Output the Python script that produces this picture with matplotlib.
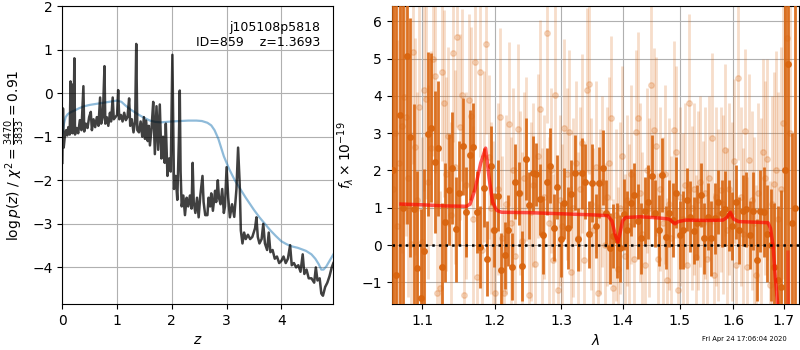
import matplotlib
matplotlib.use("Agg")
import matplotlib.pyplot as plt
import numpy as np
from matplotlib.ticker import FixedLocator, FixedFormatter, NullLocator

# ---- redshift probability: log p(z) ----
pz_z = [0.000, 0.012, 0.025, 0.045, 0.07, 0.09, 0.11, 0.135, 0.150, 0.162,
        0.175, 0.185, 0.205, 0.220, 0.232, 0.26, 0.29, 0.32, 0.35, 0.385,
        0.40, 0.43, 0.46, 0.49, 0.52, 0.54, 0.57, 0.60, 0.63, 0.66,
        0.69, 0.71, 0.74, 0.77, 0.785, 0.81, 0.84, 0.87, 0.89, 0.92,
        0.94, 0.97, 1.00, 1.02, 1.04, 1.07, 1.10, 1.13, 1.16, 1.19,
        1.22, 1.24, 1.27, 1.30, 1.33, 1.35, 1.37, 1.40, 1.43, 1.46,
        1.49, 1.51, 1.53, 1.56, 1.58, 1.60, 1.63, 1.66, 1.69, 1.72,
        1.75, 1.78, 1.81, 1.84, 1.87, 1.89, 1.92, 1.95, 1.98, 2.01,
        2.04, 2.07, 2.10, 2.13, 2.145, 2.16, 2.18, 2.21, 2.24, 2.27,
        2.30, 2.33, 2.36, 2.38, 2.40, 2.43, 2.46, 2.49, 2.52, 2.56,
        2.58, 2.61, 2.65, 2.67, 2.70, 2.72, 2.75, 2.79, 2.81, 2.84,
        2.86, 2.89, 2.92, 2.95, 2.97, 3.00, 3.03, 3.06, 3.10, 3.14,
        3.18, 3.21, 3.24, 3.26, 3.29, 3.32, 3.35, 3.39, 3.43, 3.47,
        3.52, 3.545, 3.57, 3.60, 3.64, 3.67, 3.70, 3.74, 3.77, 3.80,
        3.84, 3.88, 3.92, 3.96, 4.00, 4.04, 4.08, 4.12, 4.16, 4.19,
        4.23, 4.27, 4.31, 4.35, 4.39, 4.42, 4.46, 4.50, 4.55, 4.60,
        4.63, 4.66, 4.70, 4.73, 4.76, 4.80, 4.84, 4.88, 4.92, 4.95]
pz_logp = [-1.60, -0.35, -1.25, -1.00, -0.85, -0.97, -0.78, -0.95, 0.27, -0.90,
           0.20, -0.92, -0.75, 0.80, -0.95, -0.80, -0.92, -0.62, -0.85, 0.16,
           -0.88, -0.70, -0.80, -0.55, -0.43, -0.85, -0.60, -0.78, -0.55, -0.75,
           -0.10, -0.70, -0.55, 0.62, -0.70, -0.55, -0.75, -0.45, -0.65, -0.10,
           -0.60, -0.55, -0.50, 0.07, -0.60, -0.50, -0.65, -0.45, -0.62, -0.55,
           -0.12, -0.75, -0.60, -0.90, -0.65, 1.13, -0.85, -0.90, -0.65, -1.00,
           -0.55, -1.05, -0.63, -1.10, -0.75, -1.20, -0.80, -0.20, -1.40, -0.30,
           -1.30, -0.26, -1.50, -1.00, -1.60, -0.70, -1.90, -1.50, -1.80, 0.88,
           -2.20, -1.90, -2.45, -1.00, 0.06, -1.80, -2.60, -2.35, -2.80, -2.40,
           -2.60, -2.35, -2.65, -1.60, -2.50, -2.75, -2.40, -2.85, -2.35, -1.90,
           -2.50, -2.80, -2.80, -2.40, -2.60, -2.30, -2.70, -2.24, -2.50, -2.00,
           -2.40, -2.55, -2.20, -2.75, -2.60, -1.70, -2.40, -2.85, -2.55, -2.84,
           -2.20, -1.25, -2.10, -3.15, -3.45, -3.20, -3.35, -3.25, -3.35, -3.30,
           -3.10, -2.85, -3.30, -3.45, -3.35, -3.00, -3.45, -3.60, -3.20, -3.65,
           -3.60, -3.80, -3.75, -3.90, -3.85, -3.75, -3.90, -3.80, -3.49, -3.95,
           -3.90, -4.00, -3.95, -4.10, -3.70, -4.15, -4.05, -4.25, -4.25, -4.35,
           -4.00, -4.30, -4.25, -4.60, -4.65, -4.45, -4.35, -4.20, -4.00, -3.90]

# smooth (template-prior) curve
prior_z = [0.00, 0.03, 0.06, 0.10, 0.15, 0.22, 0.30, 0.40, 0.50, 0.60,
           0.70, 0.85, 1.00, 1.08, 1.15, 1.25, 1.40, 1.50, 1.60, 1.70,
           1.80, 1.90, 2.00, 2.15, 2.30, 2.45, 2.55, 2.65, 2.72, 2.78,
           2.85, 2.90, 2.95, 3.05, 3.15, 3.25, 3.35, 3.50, 3.60, 3.70,
           3.80, 3.90, 4.00, 4.10, 4.20, 4.30, 4.45, 4.55, 4.62, 4.68,
           4.73, 4.77, 4.82, 4.88, 4.95]
prior_logp = [-0.95, -0.70, -0.55, -0.48, -0.44, -0.40, -0.35, -0.30, -0.27, -0.25,
              -0.23, -0.20, -0.17, -0.20, -0.28, -0.38, -0.50, -0.57, -0.63, -0.66,
              -0.67, -0.66, -0.65, -0.64, -0.63, -0.63, -0.64, -0.68, -0.74, -0.85,
              -1.05, -1.25, -1.45, -1.75, -2.00, -2.20, -2.40, -2.68, -2.85, -3.00,
              -3.15, -3.28, -3.40, -3.47, -3.52, -3.55, -3.62, -3.70, -3.80, -3.92,
              -4.05, -4.05, -3.98, -3.85, -3.70]

# ---- 1D spectrum ----
dark_flux = [2.0, -0.8, 3.5, 1.0, 5.07,
             2.89, 0.98, -0.61, -1.43, -0.15, 2.97, 3.15, 2.22, 2.59, -0.58,
             0.61, 1.49, 2.06, 0.42, 1.40, 2.65, 0.89, 2.41, 2.62, 0.88,
             -0.05, 1.54, -0.36, 2.13, 0.40, 1.32, -0.67, -0.27, 0.40, -0.58,
             1.70, 1.39, -0.56, 2.30, 1.07, 1.92, 1.90, 1.23, 0.27, 1.70,
             2.13, 0.47, 1.56, 0.15, 1.12, 0.45, 1.37, 1.94, 0.15, 1.92,
             1.70, 0.29, 1.67, 0.51, 1.67, 2.08, 0.85, -0.09, 0.24, 0.13,
             -0.09, 0.83, 0.40, 1.14, 1.34, 0.64, 0.18, 0.92, 1.16, 1.86,
             0.85, 0.40, 1.88, 0.21, 0.85, 0.67, 1.40, 0.27, 0.40, 1.22,
             0.76, 0.38, 0.60, 1.34, 0.18, 0.76, 0.18, 0.72, 1.16, 0.85,
             0.98, 0.80, 0.51, 1.16, 0.40, 0.92, 0.96, 0.27, 0.92, -0.40,
             0.92, 0.89, 0.31, 0.00, -0.58, -0.94, -1.12, 2.0, 4.85, 0.6, 1.0]
dark_err = [9.0, 9.0, 9.0, 9.0, 4.5,
            3.2, 2.8, 2.6, 2.4, 2.2, 2.2, 2.0, 1.9, 1.8, 1.7,
            1.6, 1.5, 1.5, 1.4, 1.4, 1.3, 1.2, 1.2, 1.2, 1.1,
            1.1, 1.05, 1.0, 1.05, 1.0, 0.95, 1.0, 0.9, 0.95, 0.9,
            1.0, 0.85, 0.95, 1.1, 0.9, 1.0, 0.85, 0.95, 1.05, 0.9,
            1.0, 0.9, 0.85, 1.0, 0.95, 1.1, 0.9, 1.0, 0.85, 0.95,
            1.0, 0.9, 1.05, 0.85, 0.95, 1.0, 0.9, 0.95, 0.85, 1.0,
            0.9, 0.95, 1.05, 0.9, 0.85, 1.0, 0.95, 0.9, 1.0, 1.1,
            0.9, 0.95, 1.0, 0.85, 0.9, 1.0, 0.95, 0.9, 1.05, 0.85,
            0.95, 0.9, 1.0, 0.85, 0.95, 0.9, 1.0, 0.95, 0.85, 0.9,
            1.0, 0.95, 0.9, 1.0, 0.9, 0.95, 1.0, 0.9, 1.05, 1.1,
            1.1, 1.2, 1.3, 1.5, 1.7, 2.0, 2.6, 9.0, 9.0, 2.4, 9.0]

light_flux = [1.5, 3.0, 0.5, 2.2, 3.19, 3.96, 3.44, 1.8, 0.03, 5.17,
              2.64, 1.2, 3.71, 0.09, 4.16, 3.93, 1.70, 2.6, 4.98, 4.53,
              -1.28, -1.16, 4.65, 3.80, 1.9, 2.92, 0.8, 5.16, 2.1, 5.57,
              3.17, 4.02, -1.34, 1.6, 3.89, 3.46, 0.7, 4.92, -0.85, 4.65,
              -0.13, 2.37, 5.39, 2.35, 1.0, 0.4, -1.29, 1.5, 3.43, 0.2,
              -1.28, 1.1, 3.24, 0.6, 2.0, -0.3, 3.10, 1.4, 0.1, 1.8,
              2.30, -1.34, 0.9, 1.6, -0.5, 2.4, 3.64, 0.3, 1.3, 5.68,
              0.6, 2.0, -0.4, 4.02, -1.21, 1.2, 0.5, 3.13, 1.9, 3.04,
              -0.72, 1.0, 2.2, 0.2, 1.5, 2.73, -0.40, 4.17, 4.31, 1.1,
              0.4, 2.1, -1.29, 0.9, 1.7, 0.0, 1.3, 2.2, 3.40, -1.16,
              0.8, -0.65, 1.0, 2.4, -0.3, 1.2, 0.5, 1.9, -0.36, 3.04,
              3.42, 1.4, 0.3, -0.54, 2.0, 1.0, 4.29, 3.08, 2.65, -0.36,
              1.5, 0.6, 1.9, -0.94, 1.1, 0.2, 3.08, 2.50, -1.21, 1.3,
              0.7, 1.6, -0.54, 3.80, 1.0, 1.5, -0.31, 1.2, 1.7, 0.6,
              1.4, -0.38, 1.8, 2.86, -0.80, 1.3, 0.8, 1.49, 1.1, 2.55,
              0.4, 1.5, 0.9, 2.25, -0.54, 4.47, 1.3, 0.3, 3.06, -0.58,
              2.28, 1.2, 0.6, -0.80, 1.4, 0.9, 2.50, 1.8, 2.30, -1.07,
              1.1, 1.64, 2.0, 0.7, 1.5, 3.28, 2.0, 5.54, 3.0]
light_err = [6.0, 6.0, 5.0, 5.0, 3.4, 3.4, 3.2, 3.2, 3.0, 3.0,
             2.9, 2.9, 2.8, 2.8, 2.7, 2.7, 2.6, 2.6, 2.6, 2.6,
             2.5, 2.6, 2.4, 2.5, 2.6, 2.4, 2.5, 2.4, 2.6, 2.4,
             2.5, 2.3, 2.4, 2.5, 2.3, 2.4, 2.5, 2.3, 2.4, 2.3,
             2.4, 2.3, 2.4, 2.2, 2.3, 2.4, 2.2, 2.3, 2.4, 2.2,
             2.3, 2.4, 2.2, 2.3, 2.2, 2.4, 2.3, 2.2, 2.4, 2.3,
             2.2, 2.3, 2.4, 2.2, 2.3, 2.2, 2.4, 2.3, 2.2, 2.4,
             2.3, 2.2, 2.3, 2.4, 2.2, 2.3, 2.2, 2.4, 2.3, 2.2,
             2.3, 2.4, 2.2, 2.3, 2.2, 2.4, 2.3, 2.2, 2.4, 2.3,
             2.2, 2.3, 2.4, 2.2, 2.3, 2.2, 2.4, 2.3, 2.2, 2.4,
             2.3, 2.2, 2.3, 2.4, 2.2, 2.3, 2.2, 2.4, 2.3, 2.2,
             2.3, 2.4, 2.2, 2.3, 2.2, 2.4, 2.3, 2.2, 2.4, 2.3,
             2.2, 2.3, 2.4, 2.2, 2.3, 2.2, 2.4, 2.3, 2.2, 2.4,
             2.3, 2.2, 2.3, 2.4, 2.2, 2.3, 2.2, 2.4, 2.3, 2.2,
             2.3, 2.4, 2.2, 2.3, 2.2, 2.4, 2.3, 2.2, 2.4, 2.3,
             2.2, 2.3, 2.4, 2.2, 2.3, 2.2, 2.4, 2.3, 2.2, 2.4,
             2.3, 2.4, 2.3, 2.4, 2.4, 2.5, 2.5, 2.6, 2.7, 2.8,
             2.9, 3.0, 3.2, 3.4, 3.8, 4.2, 4.6, 5.0, 6.0]

# best-fit model
model_wave = [1.072, 1.100, 1.130, 1.160, 1.165, 1.172, 1.180, 1.187, 1.192, 1.197,
              1.203, 1.210, 1.250, 1.300, 1.350, 1.375, 1.382, 1.388, 1.392, 1.396,
              1.400, 1.405, 1.430, 1.460, 1.480, 1.487, 1.491, 1.497, 1.510, 1.550,
              1.580, 1.588, 1.594, 1.600, 1.610, 1.650, 1.668, 1.673, 1.678, 1.683,
              1.689]
model_flux = [1.10, 1.08, 1.05, 1.04, 1.10, 1.50, 2.20, 2.60, 1.80, 1.15,
              0.93, 0.88, 0.87, 0.84, 0.81, 0.79, 0.65, 0.25, 0.08, 0.35,
              0.65, 0.74, 0.76, 0.73, 0.70, 0.62, 0.57, 0.63, 0.67, 0.66,
              0.67, 0.75, 0.88, 0.70, 0.63, 0.61, 0.60, 0.45, 0.00, -0.90,
              -1.80]
model2_wave = [1.7085, 1.7090]
model2_flux = [-0.19, -2.0]

wave_lo, wave_hi = 1.0613, 1.7238
dark_wave = np.geomspace(wave_lo, wave_hi, len(dark_flux))
light_wave = np.geomspace(wave_lo, 1.712, len(light_flux))

obj_label = "j105108p5818\nID=859    z=1.3693"
chi2_label = r"$\log p(z)$" + " / " + r"$\chi^2=\frac{3470}{3833}=0.91$"
stamp = "Fri Apr 24 17:06:04 2020"

orange = "#d9650f"

fig = plt.figure(figsize=(8, 3.5), dpi=100)
ax1 = fig.add_axes([0.0779, 0.1314, 0.3388, 0.8514])
ax2 = fig.add_axes([0.4896, 0.1314, 0.5095, 0.8514])

# left: redshift PDF
ax1.plot(prior_z, prior_logp, color="#1f77b4", alpha=0.5, lw=1.6, zorder=2)
ax1.plot(pz_z, pz_logp, color="k", alpha=0.75, lw=1.8, zorder=3)
ax1.set_xlim(0, 4.95)
ax1.set_ylim(-4.84, 2.0)
ax1.set_xticks([0, 1, 2, 3, 4])
ax1.set_yticks([-4, -3, -2, -1, 0, 1, 2])
ax1.grid(True)
ax1.set_xlabel(r"$z$", fontsize=10)
ax1.set_ylabel(chi2_label, fontsize=10)
ax1.text(0.95, 0.95, obj_label, ha="right", va="top",
         transform=ax1.transAxes, fontsize=9)

# right: spectrum
ax2.errorbar(light_wave, light_flux, yerr=light_err, fmt="o", color=orange,
             alpha=0.22, markersize=4, elinewidth=2.0, capsize=0, zorder=2)
ax2.errorbar(dark_wave, dark_flux, yerr=dark_err, fmt="o", color=orange,
             alpha=0.9, markersize=4, elinewidth=2.0, capsize=0, zorder=3)
ax2.plot(model_wave, model_flux, color="r", alpha=0.65, lw=2.5, zorder=5)
ax2.plot(model2_wave, model2_flux, color="r", alpha=0.4, lw=2.5, zorder=5)
ax2.axhline(0, color="k", ls=":", lw=1.8, zorder=6)
ax2.set_xscale("log")
ax2.set_xlim(1.06, 1.732)
ax2.set_ylim(-1.58, 6.41)
ticks = [1.1, 1.2, 1.3, 1.4, 1.5, 1.6, 1.7]
ax2.xaxis.set_major_locator(FixedLocator(ticks))
ax2.xaxis.set_major_formatter(FixedFormatter([f"{t:.1f}" for t in ticks]))
ax2.xaxis.set_minor_locator(NullLocator())
ax2.set_yticks([-1, 0, 1, 2, 3, 4, 5, 6])
ax2.grid(True)
ax2.set_xlabel(r"$\lambda$", fontsize=10)
ax2.set_ylabel(r"$f_\lambda\times10^{-19}$", fontsize=10)

for ax in (ax1, ax2):
    ax.tick_params(labelsize=10)

fig.text(0.984, 0.031, stamp, ha="right", va="center", fontsize=4.9)

fig.savefig("out.png", dpi=100)
